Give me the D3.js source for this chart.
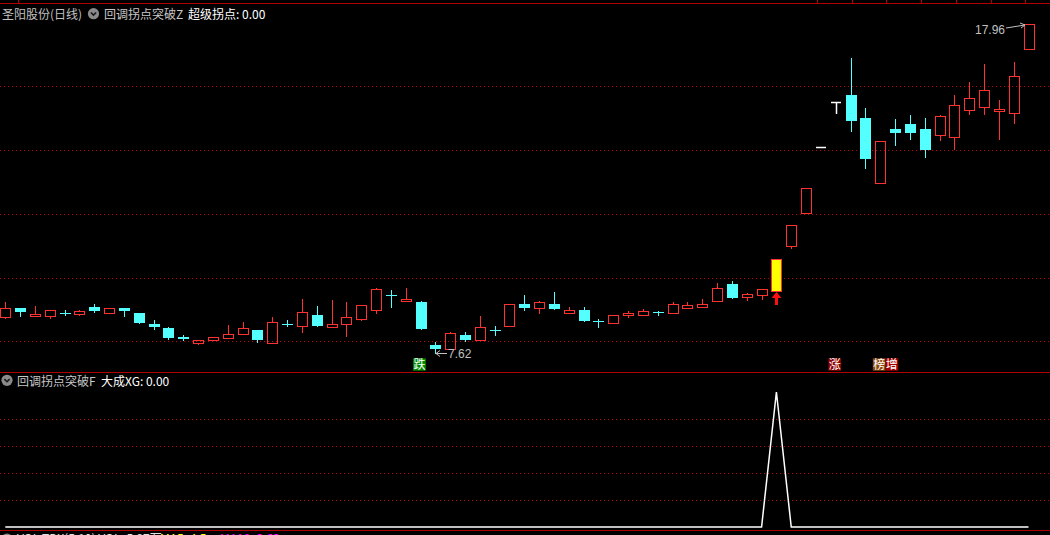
<!DOCTYPE html>
<html><head><meta charset="utf-8">
<script src="https://cdn.jsdelivr.net/npm/d3@7/dist/d3.min.js"></script>
<style>html,body{margin:0;padding:0;background:#000;overflow:hidden}svg{display:block}</style>
</head><body><svg id="c" width="1050" height="535"></svg>
<script>
// ---- data ----
const opens  = [8.76,9.03,8.79,8.79,8.90,8.86,9.07,8.89,9.03,8.88,8.54,8.41,8.13,7.94,8.04,8.10,8.23,8.34,7.96,8.54,8.48,8.81,8.46,8.55,8.70,8.99,9.44,9.26,9.22,7.87,7.76,8.19,8.04,8.34,8.48,9.17,9.04,9.16,8.89,8.98,8.63,8.56,8.82,8.82,8.91,8.89,9.03,9.07,9.26,9.79,9.38,9.45,9.58,10.99,12.01,14.10,15.51,15.73,15.01,12.97,14.66,14.82,14.66,14.48,14.40,15.27,15.36,15.24,15.15,17.17];
const highs  = [9.22,9.03,9.10,8.97,8.97,8.98,9.16,9.03,9.03,8.88,8.66,8.44,8.19,8.05,8.12,8.50,8.59,8.34,8.75,8.68,9.32,9.10,9.29,9.22,9.15,9.66,9.60,9.66,9.25,7.97,8.28,8.28,8.78,8.47,9.16,9.44,9.25,9.54,9.07,9.07,8.69,8.81,8.94,9.00,8.96,9.22,9.22,9.32,9.82,9.88,9.51,9.63,10.59,11.65,12.82,14.10,15.51,16.89,15.32,14.27,14.97,15.10,15.01,15.10,15.73,16.14,16.70,15.57,16.77,17.96];
const lows   = [8.70,8.79,8.79,8.70,8.81,8.79,8.92,8.89,8.79,8.57,8.38,8.06,8.03,7.87,8.04,8.07,8.23,7.97,7.96,8.48,8.26,8.48,8.46,8.13,8.64,8.86,9.08,9.23,8.38,7.62,7.76,8.01,8.04,8.20,8.48,8.98,8.85,9.00,8.89,8.63,8.44,8.53,8.72,8.82,8.81,8.89,9.03,9.03,9.26,9.35,9.25,9.29,9.58,10.91,12.01,14.10,15.14,14.61,13.44,12.94,14.17,14.36,13.79,14.29,14.01,15.11,15.11,14.32,14.83,17.17];
const closes = [9.06,8.92,8.85,8.97,8.89,8.94,8.95,9.03,8.95,8.57,8.45,8.10,8.06,8.05,8.12,8.22,8.41,8.03,8.59,8.53,8.93,8.48,8.55,8.77,9.15,9.63,9.43,9.32,8.38,7.76,8.25,8.04,8.44,8.33,9.16,9.04,9.22,9.00,8.97,8.63,8.62,8.81,8.88,8.94,8.90,9.16,9.13,9.16,9.66,9.35,9.47,9.63,10.59,11.65,12.82,14.10,15.51,14.92,13.73,14.27,14.54,14.54,14.01,15.06,15.41,15.63,15.88,15.29,16.32,17.96];
const priceTicks = [8,10,12,14,16];
const xgValues = [0,0,0,0,0,0,0,0,0,0, 0,0,0,0,0,0,0,0,0,0, 0,0,0,0,0,0,0,0,0,0, 0,0,0,0,0,0,0,0,0,0, 0,0,0,0,0,0,0,0,0,0, 0,0,1,0,0,0,0,0,0,0, 0,0,0,0,0,0,0,0,0,0];
const xgTicks = [0.2,0.4,0.6,0.8];
const signalLabels = ["跌","涨","榜增"];
const signalIndex  = [28,56,59];
const stockTitle = "圣阳股份(日线)";
const ind1Name = "回调拐点突破Z", ind1Value = "超级拐点: 0.00";
const ind2Name = "回调拐点突破F", ind2Value = "大成XG: 0.00";

// ---- drawing ----
const W = 1050;
const RED = "#ff3232", CYAN = "#54ffff", GRID = "#c00000", BORDER = "#b00000";
const FONT = "'Noto Sans CJK SC','Liberation Sans',sans-serif";
const svg = d3.select("#c");
svg.append("rect").attr("width",W).attr("height",535).attr("fill","#000");

const n = opens.length;
const x = d3.scalePoint().domain(d3.range(n)).range([5.3, 1028.5]);
const y = d3.scaleLinear().domain([8,16]).range([341.3, 86.3]);
const y2 = d3.scaleLinear().domain([0,1]).range([527, 392]);

// grids
svg.append("g").selectAll("line").data(priceTicks).join("line")
  .attr("x1",0).attr("x2",W)
  .attr("y1",d=>Math.round(y(d))+0.5).attr("y2",d=>Math.round(y(d))+0.5)
  .attr("stroke",GRID).attr("stroke-dasharray","1,3");
svg.append("g").selectAll("line").data(xgTicks).join("line")
  .attr("x1",0).attr("x2",W)
  .attr("y1",d=>Math.round(y2(d))+0.5).attr("y2",d=>Math.round(y2(d))+0.5)
  .attr("stroke",GRID).attr("stroke-dasharray","1,3");

// borders
[3,372,530].forEach(v=>svg.append("line").attr("x1",0).attr("x2",W).attr("y1",v+0.5).attr("y2",v+0.5).attr("stroke",BORDER).attr("stroke-width",1));
const topTickX = [17.7];
for (let t=816.7; t<1040; t+=34.8) topTickX.push(t);
svg.append("g").selectAll("line").data(topTickX).join("line")
  .attr("x1",d=>Math.round(d)+0.5).attr("x2",d=>Math.round(d)+0.5)
  .attr("y1",0).attr("y2",3).attr("stroke",BORDER);

// candles
const cg = svg.append("g");
for (let i=0;i<n;i++){
  const o=opens[i], h=highs[i], l=lows[i], c=closes[i];
  const cx = Math.round(x(i));
  const wx = cx+0.5;
  const yT = Math.round(y(Math.max(o,c))), yB = Math.round(y(Math.min(o,c)));
  const yH = Math.round(y(h)), yL = Math.round(y(l));
  if (c>o){
    if (yH<yT) cg.append("line").attr("x1",wx).attr("x2",wx).attr("y1",yH).attr("y2",yT).attr("stroke",RED);
    if (yL>yB) cg.append("line").attr("x1",wx).attr("x2",wx).attr("y1",yB+1).attr("y2",yL).attr("stroke",RED);
    cg.append("rect").attr("x",cx-4.5).attr("y",yT+0.5).attr("width",10).attr("height",Math.max(1,yB-yT))
      .attr("fill", xgValues[i]===1 ? "#ffff00" : "none").attr("stroke",RED).attr("stroke-width",1);
  } else if (c<o){
    cg.append("line").attr("x1",wx).attr("x2",wx).attr("y1",yH).attr("y2",yL+1).attr("stroke",CYAN);
    cg.append("rect").attr("x",cx-5).attr("y",yT).attr("width",11).attr("height",Math.max(1,yB-yT)).attr("fill",CYAN);
  } else {
    if (yL>yH) cg.append("line").attr("x1",wx).attr("x2",wx).attr("y1",yH).attr("y2",yL).attr("stroke","#fff").attr("stroke-width",1.5);
    cg.append("line").attr("x1",cx-5).attr("x2",cx+5).attr("y1",yT+0.5).attr("y2",yT+0.5).attr("stroke","#fff").attr("stroke-width",1.5);
  }
}

// signal arrows under XG candles
xgValues.forEach((v,i)=>{
  if (v!==1) return;
  const cx = Math.round(x(i))+0.5;
  const yb = Math.round(y(Math.min(opens[i],closes[i])))+1;
  svg.append("path").attr("d",`M${cx},${yb} L${cx+5},${yb+6} L${cx+1.5},${yb+6} L${cx+1.5},${yb+13} L${cx-1.5},${yb+13} L${cx-1.5},${yb+6} L${cx-5},${yb+6} Z`).attr("fill","#ff1010");
});

// low / high annotations
const iLow = d3.minIndex(lows), iHigh = d3.maxIndex(highs);
{
  const cx = Math.round(x(iLow)), yy = Math.round(y(lows[iLow]))+0.5;
  const g = svg.append("g").attr("stroke","#c0c0c0").attr("fill","none");
  g.append("line").attr("x1",cx+1).attr("x2",cx+12).attr("y1",yy).attr("y2",yy);
  g.append("path").attr("d",`M${cx+5},${yy-3} L${cx+1},${yy} L${cx+5},${yy+3}`);
  svg.append("text").attr("x",cx+13).attr("y",yy+4.5).attr("fill","#c0c0c0").attr("font-family","'Liberation Sans',sans-serif").attr("font-size",12).text(lows[iLow].toFixed(2));
}
{
  const cx = Math.round(x(iHigh)), yy = Math.round(y(highs[iHigh]));
  const g = svg.append("g").attr("stroke","#c0c0c0").attr("fill","none");
  g.append("line").attr("x1",cx-23).attr("x2",cx-4).attr("y1",yy+4).attr("y2",yy+1);
  g.append("path").attr("d",`M${cx-9},${yy-1} L${cx-4},${yy+1} L${cx-8},${yy+4}`);
  svg.append("text").attr("x",cx-24).attr("y",yy+9.5).attr("text-anchor","end").attr("fill","#c0c0c0").attr("font-family","'Liberation Sans',sans-serif").attr("font-size",12).text(highs[iHigh].toFixed(2));
}

// signal labels
const boxColors = {"跌":"#008a00","涨":"#8c0000","榜":"#8a4a0c","增":"#a00000"};
signalLabels.forEach((lab,k)=>{
  const left = x(signalIndex[k]) - 7.4;
  [...lab].forEach((ch,j)=>{
    const bx = left + j*12.7;
    svg.append("rect").attr("x",bx).attr("y",358.3).attr("width",12.7).attr("height",12.4).attr("fill",boxColors[ch]||"#8c0000");
    svg.append("text").attr("x",bx+6.35).attr("y",369).attr("text-anchor","middle").attr("fill","#fff")
      .attr("font-family",FONT).attr("font-size",12).text(ch);
  });
});

// XG line in lower panel
svg.append("path").datum(xgValues)
  .attr("d", d3.line().x((d,i)=>x(i)).y(d=>y2(d)))
  .attr("fill","none").attr("stroke","#fff").attr("stroke-width",1.5);

// headers
function chevron(cx, cy){
  svg.append("circle").attr("cx",cx).attr("cy",cy).attr("r",5.6).attr("fill","#8a8a8a");
  svg.append("path").attr("d",`M${cx-2.6},${cy-1.2} L${cx},${cy+1.4} L${cx+2.6},${cy-1.2}`).attr("fill","none").attr("stroke","#1a1a1a").attr("stroke-width",1.6);
}
function txt(xx, yy, s, col){
  return svg.append("text").attr("x",xx).attr("y",yy).attr("fill",col).attr("font-family",FONT).attr("font-size",12).text(s);
}
txt(2,18.5,stockTitle,"#c0c0c0");
chevron(93.5,13.7);
txt(104,18.5,ind1Name,"#c8c8c8");
txt(188,18.5,ind1Value,"#ffffff");
chevron(7,380.3);
txt(17,385.5,ind2Name,"#c8c8c8");
txt(101,385.5,ind2Value,"#ffffff");

// clipped bottom header (third panel)
chevron(7,539);
txt(17,543,"VOL-TDX(5,10) VOL: 5.97万","#e0e0e0");
txt(160,543,"MA5: 4.5","#ffff00");
txt(220,543,"MA10: 3.63","#ff00ff");
</script></body></html>
